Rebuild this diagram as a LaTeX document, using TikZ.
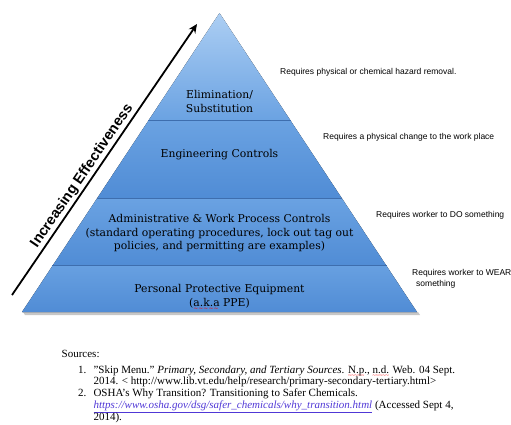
\documentclass[tikz,border=0pt]{standalone}
\usepackage{fontspec}
\setmainfont{Liberation Serif}
\newfontfamily\tierfont{DejaVu Serif}
\newfontfamily\notefont{Liberation Sans}
\usetikzlibrary{calc,arrows.meta}

\definecolor{apexblue}{RGB}{172,206,243}
\definecolor{tierblue}{RGB}{106,162,226}
\definecolor{deepblue}{RGB}{80,140,213}
\definecolor{edgeblue}{RGB}{62,110,174}
\definecolor{linkblue}{RGB}{80,56,214}

% red wavy spell-check line under a word
\newsavebox{\spellbox}
\newcommand{\spellmark}[1]{\sbox{\spellbox}{#1}%
  \rlap{\color{red}\raisebox{-4.5pt}[0pt][0pt]{\hbox to \wd\spellbox{\fontsize{6}{6}\selectfont\leaders\hbox{\char"7E}\hfill}}}#1}

\tikzset{
  tier/.style 2 args={top color=#1, bottom color=#2},
  seam/.style={draw=edgeblue, line width=1pt},
  tiertext/.style={align=center, text=black, font=\tierfont\fontsize{10.8}{13.5}\selectfont},
  note/.style={anchor=west, align=left, inner sep=0pt, font=\notefont\fontsize{8.5}{11.5}\selectfont},
  source/.style={anchor=base west, inner sep=0pt, font=\fontsize{11}{11.7}\selectfont}
}

\begin{document}
\begin{tikzpicture}[x=1pt,y=-1pt]
  \useasboundingbox (0,0) rectangle (511,424);
  % corners of the pyramid and the layer boundaries
  \coordinate (apex) at (219.5,13);
  \coordinate (bl) at (22,312);
  \coordinate (br) at (417,312);
  \foreach \t/\n in {0.361/1,0.619/2,0.846/3}{
    \coordinate (l\n) at ($(apex)!\t!(bl)$);
    \coordinate (r\n) at ($(apex)!\t!(br)$);
  }

  % soft shadow under the base
  \fill[black!22] ($(bl)+(1,0)$) -- ($(br)+(1,0)$) -- ($(br)+(3,3)$) -- ($(bl)+(3,3)$) -- cycle;

  % the four layers, top to bottom
  \fill[tier={apexblue}{tierblue}] (apex) -- (r1) -- (l1) -- cycle;
  \fill[tier={tierblue}{deepblue}] (l1) -- (r1) -- (r2) -- (l2) -- cycle;
  \fill[tier={tierblue}{deepblue}] (l2) -- (r2) -- (r3) -- (l3) -- cycle;
  \fill[tier={tierblue!90!deepblue}{deepblue}] (l3) -- (r3) -- (br) -- (bl) -- cycle;
  \foreach \n in {1,2,3}
    \draw[seam] (l\n) -- (r\n);

  % layer names
  \node[tiertext] (elim) at (219.5,101.5) {Elimination/\\Substitution};
  \node[tiertext] (eng) at (219.5,155) {Engineering Controls};
  \node[tiertext] (admin) at (219.5,233.5) {Administrative \& Work Process Controls\\(standard operating procedures, lock out tag out\\policies, and permitting are examples)};
  \node[tiertext] (ppe) at (219.5,296) {Personal Protective Equipment\\(\spellmark{a.k.a} PPE)};

  % what each layer asks for
  \node[note] (elimnote) at (280,72) {Requires physical or chemical hazard removal.};
  \node[note] (engnote) at (323,137) {Requires a physical change to the work place};
  \node[note] (adminnote) at (376,215) {Requires worker to DO something};
  \node[note] (ppenote) at (412,279) {Requires worker to WEAR\\\hspace{4pt}something};

  % effectiveness arrow
  \coordinate (tail) at (12,295);
  \coordinate (tip) at (197,24);
  \draw[line width=1.8pt, -{Stealth[length=9pt,width=8pt]}] (tail) -- (tip)
    node[pos=0.42, sloped, above, inner sep=1.5pt, font=\notefont\bfseries\fontsize{14.5}{16}\selectfont] (effect) {Increasing Effectiveness};

  % sources
  \node[source] (srchead) at (61.5,357.5) {Sources:};
  \node[source] (num1) at (78,373) {1.};
  \node[source] (src1a) at (93.3,373) {\symbol{34}Skip Menu.\symbol{34} \textit{Primary, Secondary, and Tertiary Sources}. \spellmark{N.p.}, \spellmark{n.d.} Web. 04 Sept.};
  \node[source] (src1b) at (93.3,384.5) {2014. < http://www.lib.vt.edu/help/research/primary-secondary-tertiary.html>};
  \node[source] (num2) at (78,396) {2.};
  \node[source] (src2a) at (93.3,396) {OSHA\symbol{39}s Why Transition? Transitioning to Safer Chemicals.};
  \node[source] (src2b) at (93.3,408) {\textcolor{linkblue}{\underline{\textit{https://www.osha.gov/dsg/safer\_chemicals/why\_transition.html}}} (Accessed Sept 4,};
  \node[source] (src2c) at (93.3,420) {2014).};
\end{tikzpicture}
\end{document}
